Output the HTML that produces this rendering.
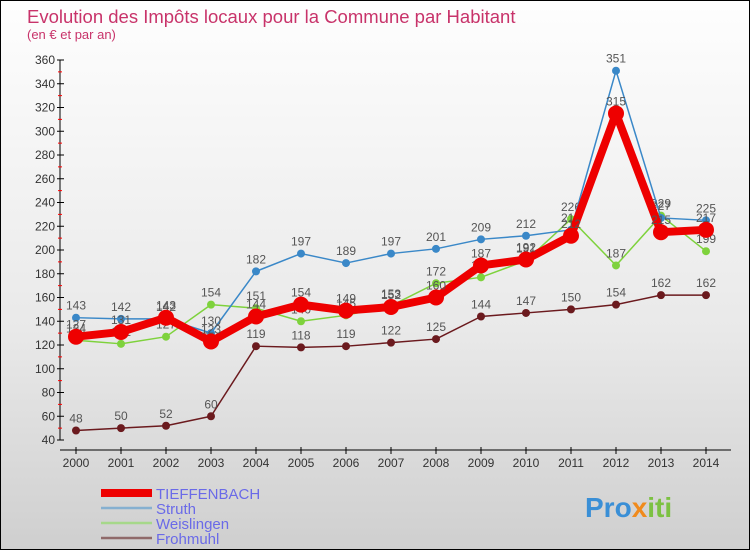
<!DOCTYPE html>
<html><head><meta charset="utf-8"><style>
body{margin:0;width:750px;height:550px;overflow:hidden;font-family:"Liberation Sans",sans-serif}
#wrap{position:relative;width:748px;height:548px;border:1px solid #000;background:linear-gradient(#fefefe,#e9e9e9 60%,#cfcfcf)}
</style></head><body>
<div id="wrap">
<svg id="chart" width="748" height="548" style="position:absolute;left:0;top:0">
<text x="26" y="22" font-size="18.5" fill="#c8336a">Evolution des Impôts locaux pour la Commune par Habitant</text>
<text x="26" y="38" font-size="13" fill="#c8336a">(en € et par an)</text>
<g id="axes"></g><g id="series"></g><g id="legend"></g>
<text x="584" y="516" font-size="28" font-weight="bold"><tspan fill="#3a8fd6">Pro</tspan><tspan fill="#f08a1c">x</tspan><tspan fill="#7cc142">iti</tspan></text>
</svg>
</div>
<script>
const years=[2000,2001,2002,2003,2004,2005,2006,2007,2008,2009,2010,2011,2012,2013,2014];
const tieffenbach=[127,131,143,123,144,154,149,152,160,187,192,212,315,215,217];
const struth=[143,142,142,130,182,197,189,197,201,209,212,217,351,227,225];
const weislingen=[124,121,127,154,151,140,145,153,172,177,191,226,187,229,199];
const frohmuhl=[48,50,52,60,119,118,119,122,125,144,147,150,154,162,162];
const yTicks=[40,60,80,100,120,140,160,180,200,220,240,260,280,300,320,340,360];
const NS='http://www.w3.org/2000/svg';
const x=i=>75+i*45;
const y=v=>439-(v-40)*380/320;
function mk(t,a,p){const e=document.createElementNS(NS,t);for(const k in a)e.setAttribute(k,a[k]);p.appendChild(e);return e;}
const ax=document.getElementById('axes');
let l=mk('line',{x1:59,y1:59,x2:59,y2:439,stroke:'#000'},ax);


l=mk('line',{x1:59,y1:449,x2:730,y2:449,stroke:'#000'},ax);


yTicks.forEach((v,i)=>{
 mk('line',{x1:56,y1:y(v),x2:63,y2:y(v),stroke:'#000'},ax);
 if(i<yTicks.length-1)mk('line',{x1:57,y1:y(v+10),x2:61,y2:y(v+10),stroke:'#f00'},ax);
 const t=mk('text',{x:54,y:y(v)+4,'font-size':12,fill:'#333','text-anchor':'end'},ax);
 t.textContent=v;
 
 
});
years.forEach((yr,i)=>{
 mk('line',{x1:x(i),y1:446,x2:x(i),y2:453,stroke:'#000'},ax);
 const t=mk('text',{x:x(i),y:466,'font-size':12,fill:'#333','text-anchor':'middle'},ax);
 t.textContent=yr;
 
 
});
const sg=document.getElementById('series');
const defs=[
 {d:frohmuhl,c:'#6b1a1e',w:1.5,r:4,n:'frohmuhl',lc:'#8f6a6a'},
 {d:weislingen,c:'#7ed23c',w:1.5,r:4,n:'weislingen',lc:'#a6d88a'},
 {d:struth,c:'#3a88c8',w:1.5,r:4,n:'struth',lc:'#86b0d0'},
 {d:tieffenbach,c:'#ee0000',w:8,r:8,n:'tieffenbach',lc:'#ee0000'}];
defs.forEach(s=>{
 const g=mk('g',{},sg);
 
 
 const p=mk('polyline',{points:s.d.map((v,i)=>x(i)+','+y(v)).join(' '),fill:'none',stroke:s.c,'stroke-width':s.w,'stroke-linejoin':'round'},g);
 
 
 s.d.forEach((v,i)=>{
  const c=mk('circle',{cx:x(i),cy:y(v),r:s.r,fill:s.c},g);
  
  
  const t=mk('text',{x:x(i),y:y(v)-8,'font-size':12,fill:'#555','text-anchor':'middle'},g);
  t.textContent=v;
  
  
 });
});
const lg=document.getElementById('legend');
const names=['TIEFFENBACH','Struth','Weislingen','Frohmuhl'];
[defs[3],defs[2],defs[1],defs[0]].forEach((s,i)=>{
 const yy=492+i*15;
 const g=mk('g',{},lg);
 
 
 mk('line',{x1:100,y1:yy,x2:151,y2:yy,stroke:s.lc,'stroke-width':i==0?8:2.5},g);
 const t=mk('text',{x:155,y:yy+6,'font-size':15,fill:'#6a6ae8'},g);
 t.textContent=names[i];
});
</script>
</body></html>
